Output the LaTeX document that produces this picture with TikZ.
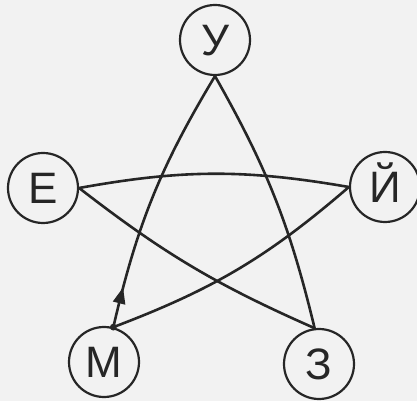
\documentclass[tikz,border=0pt]{standalone}
\usepackage{fontspec}
\setmainfont{Liberation Sans}
\usetikzlibrary{decorations.markings}
\definecolor{ink}{HTML}{262626}
\definecolor{paper}{HTML}{F2F2F2}
\begin{document}
\begin{tikzpicture}[x=1pt,y=1pt,
  letter/.style={circle,draw=ink,line width=2.2pt,minimum size=70pt,inner sep=0pt,
    font=\fontsize{44}{44}\selectfont,text=ink,text height=31pt,text depth=0pt},
  link/.style={draw=ink,line width=2.6pt}]
\useasboundingbox (0,0) rectangle (417,401);
\fill[paper] (0,0) rectangle (417,401);
\clip (0,0) rectangle (417,401);
\node[letter] (U) at (215,361) {У};
\node[letter] (E) at (43,213) {Е};
\node[letter] (J) at (385,214) {Й};
\node[letter] (M) at (104,39) {М};
\node[letter] (Z) at (319,37) {З};
\coordinate (md) at (M.75);
\draw[link,postaction={decorate},decoration={markings,
  mark=at position 0.12 with {\fill[ink] (8pt,0pt) -- (-8pt,6.5pt) -- (-8pt,-6.5pt) -- cycle;}}]
  (md) to[bend left=9] (U.south);
\draw[link] (U.south) to[bend left=8] (Z.97);
\draw[link] (E.east) to[bend left=10] (J.west);
\draw[link] (E.east) to[bend right=7] (Z.97);
\draw[link] (J.west) to[bend left=10] (md);
\fill[ink] (md) circle (3.4pt);
\end{tikzpicture}
\end{document}
